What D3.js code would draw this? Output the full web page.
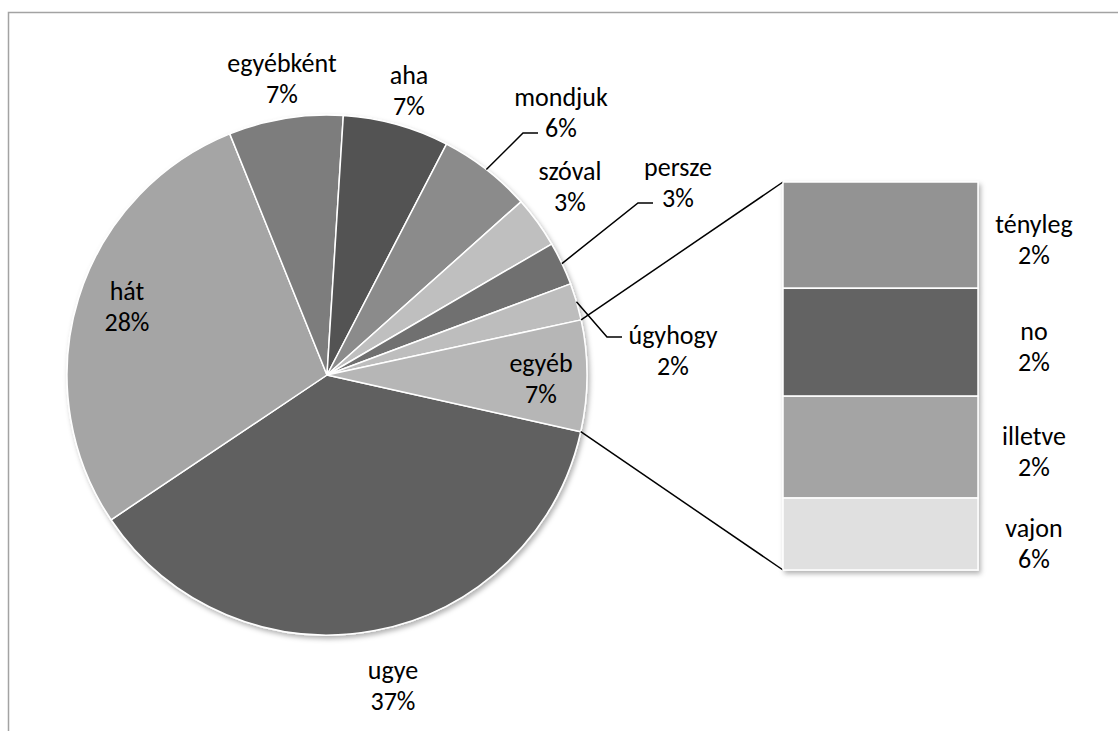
<!DOCTYPE html>
<html>
<head>
<meta charset="utf-8">
<script src="https://cdn.jsdelivr.net/npm/d3@7"></script>
<style>
  html, body { margin: 0; padding: 0; background: #fff; }
  svg { display: block; }
  text { font-family: Carlito, Calibri, Lato, sans-serif; fill: #000; }
</style>
</head>
<body>
<div id="chart"></div>
<script>
/* Pie slices (percent of total), clockwise from the "egyéb"/"ugye" edge */
var pieNames  = ['ugye', 'hát', 'egyébként', 'aha', 'mondjuk', 'szóval', 'persze', 'úgyhogy', 'egyéb'];
var pieValues = [37.1, 28.3, 7.1, 6.6, 5.8, 3.2, 2.7, 2.3, 6.9];
var pieColors = ['#616161', '#a5a5a5', '#7d7d7d', '#525252', '#8b8b8b', '#bfbfbf', '#6f6f6f', '#bdbdbd', '#b6b6b6'];

/* Break-out bar for "egyéb" */
var barNames  = ['tényleg', 'no', 'illetve', 'vajon'];
var barValues = [1.92, 1.95, 1.84, 1.3];
var barLabels = ['2%', '2%', '2%', '6%'];
var barColors = ['#939393', '#636363', '#a4a4a4', '#e0e0e0'];

var W = 1118, H = 731;
var cx = 327, cy = 375, R = 260;
var startDeg = 102.6;          // d3 angle of first slice edge
var lineH = 31;
var fontSize = 26;

/* label placement (text centres) and leader ends */
var labelLayout = {
  'ugye':      { x: 393, y: 685 },
  'hát':       { x: 127, y: 306 },
  'egyébként': { x: 282, y: 78 },
  'aha':       { x: 409, y: 90 },
  'mondjuk':   { x: 561, y: 112, leader: [538, 133] },
  'szóval':    { x: 570, y: 186 },
  'persze':    { x: 678, y: 182, leader: [653, 203] },
  'úgyhogy':   { x: 673, y: 350, leader: [622, 337] },
  'egyéb':     { x: 541, y: 378 }
};
var bar = { x0: 783, x1: 978, y0: 182, y1: 570, labelX: 1034 };
var barLabelDy = [4, 4, 4, 9];

var svg = d3.select('#chart').append('svg')
  .attr('width', W).attr('height', H);

var defs = svg.append('defs');
defs.append('filter').attr('id', 'shadow')
  .attr('x', '-10%').attr('y', '-10%').attr('width', '120%').attr('height', '120%')
  .append('feDropShadow')
  .attr('dx', 2).attr('dy', 3).attr('stdDeviation', 2.5)
  .attr('flood-color', '#000').attr('flood-opacity', 0.3);

/* chart frame */
svg.append('rect')
  .attr('x', 8.5).attr('y', 12.5)
  .attr('width', W + 20).attr('height', H + 20)
  .attr('fill', 'none')
  .attr('stroke', '#a3a3a3')
  .attr('stroke-width', 1.5);

var data = pieNames.map(function (n, i) {
  return { name: n, value: pieValues[i], color: pieColors[i] };
});

var pie = d3.pie()
  .sort(null)
  .value(function (d) { return d.value; })
  .startAngle(startDeg * Math.PI / 180)
  .endAngle(startDeg * Math.PI / 180 + 2 * Math.PI);

var arcs = pie(data);
var arc = d3.arc().innerRadius(0).outerRadius(R);

var gPie = svg.append('g')
  .attr('transform', 'translate(' + cx + ',' + cy + ')');

gPie.append('g').attr('filter', 'url(#shadow)')
  .selectAll('path')
  .data(arcs)
  .join('path')
  .attr('d', arc)
  .attr('fill', function (d) { return d.data.color; })
  .attr('stroke', '#fff')
  .attr('stroke-width', 1.5)
  .attr('stroke-linejoin', 'round');

function polar(angle, r) {
  return [cx + r * Math.sin(angle), cy - r * Math.cos(angle)];
}

/* Bar of "egyéb" */
var barTotal = d3.sum(barValues);
var yBar = d3.scaleLinear().domain([0, barTotal]).range([bar.y0, bar.y1]);
var cum = 0;
var barData = barNames.map(function (n, i) {
  var d = { name: n, value: barValues[i], label: barLabels[i], color: barColors[i], start: cum, dy: barLabelDy[i] };
  cum += barValues[i];
  return d;
});

/* connector lines from the "egyéb" slice to the bar */
var other = arcs[arcs.length - 1];
var pTop = polar(other.startAngle, R);
var pBot = polar(other.endAngle, R);
svg.append('line')
  .attr('x1', pTop[0]).attr('y1', pTop[1])
  .attr('x2', bar.x0).attr('y2', yBar(0))
  .attr('stroke', '#000').attr('stroke-width', 1.5);
svg.append('line')
  .attr('x1', pBot[0]).attr('y1', pBot[1])
  .attr('x2', bar.x0).attr('y2', yBar(barTotal))
  .attr('stroke', '#000').attr('stroke-width', 1.5);

svg.append('g').attr('filter', 'url(#shadow)')
  .selectAll('rect')
  .data(barData)
  .join('rect')
  .attr('x', bar.x0)
  .attr('y', function (d) { return yBar(d.start); })
  .attr('width', bar.x1 - bar.x0)
  .attr('height', function (d) { return yBar(d.start + d.value) - yBar(d.start); })
  .attr('fill', function (d) { return d.color; })
  .attr('stroke', '#fff')
  .attr('stroke-width', 1.5);

/* leader lines */
arcs.forEach(function (a) {
  var L = labelLayout[a.data.name];
  if (!L.leader) return;
  var mid = (a.startAngle + a.endAngle) / 2;
  var p0 = polar(mid, R);
  var end = L.leader;
  var elbow = [end[0] - 15, end[1]];
  svg.append('polyline')
    .attr('points', [p0, elbow, end].map(function (p) { return p.join(','); }).join(' '))
    .attr('fill', 'none')
    .attr('stroke', '#000')
    .attr('stroke-width', 1.5);
});

/* labels */
function twoLine(g, x, y, a, b) {
  var t = g.append('text')
    .attr('x', x).attr('y', y)
    .attr('text-anchor', 'middle')
    .attr('font-size', fontSize);
  t.append('tspan').attr('x', x).attr('y', y - lineH / 2).attr('dy', '0.35em').text(a);
  t.append('tspan').attr('x', x).attr('y', y + lineH / 2).attr('dy', '0.35em').text(b);
}

var gLab = svg.append('g');
arcs.forEach(function (a) {
  var L = labelLayout[a.data.name];
  twoLine(gLab, L.x, L.y, a.data.name, Math.round(a.data.value) + '%');
});

barData.forEach(function (d) {
  var yc = (yBar(d.start) + yBar(d.start + d.value)) / 2 + d.dy;
  twoLine(gLab, bar.labelX, yc, d.name, d.label);
});
</script>
</body>
</html>
